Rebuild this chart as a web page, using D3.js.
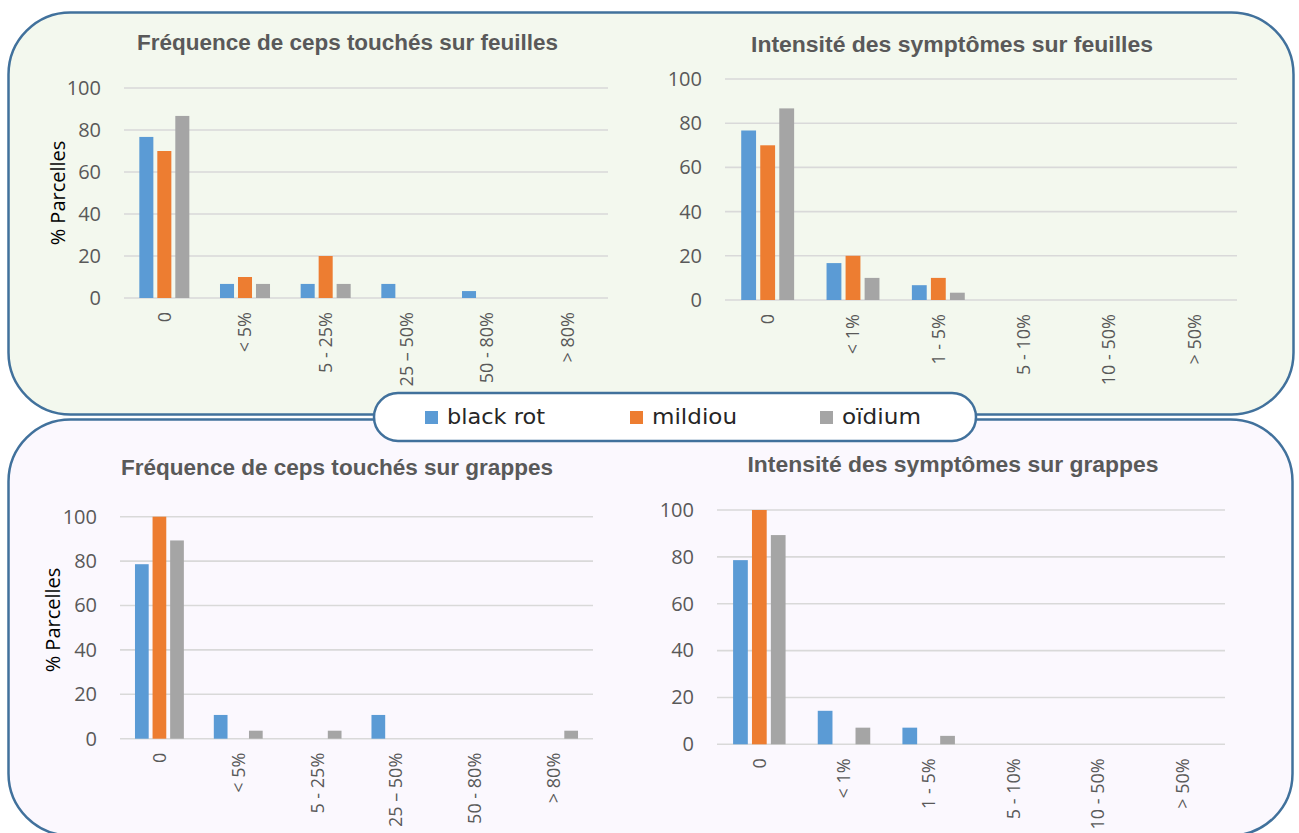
<!DOCTYPE html>
<html>
<head>
<meta charset="utf-8">
<script src="https://cdn.jsdelivr.net/npm/d3@7"></script>
<style>
  body { margin: 0; background: #fff; }
  svg { display: block; }
</style>
</head>
<body>
<svg id="chart" width="1299" height="833"></svg>
<script>
// DATA

const series = ['black rot', 'mildiou', 'oïdium']
const colors = ['#5b9bd5', '#ed7d31', '#a5a5a5']

const catFrequence = ['0', '< 5%', '5 - 25%', '25 – 50%', '50 - 80%', '> 80%']
const catIntensite = ['0', '< 1%', '1 - 5%', '5 - 10%', '10 - 50%', '> 50%']
const yTicks = [0, 20, 40, 60, 80, 100]

const titles = [
    'Fréquence de ceps touchés sur feuilles',
    'Intensité des symptômes sur feuilles',
    'Fréquence de ceps touchés sur grappes',
    'Intensité des symptômes sur grappes'
]
const yTitle = '% Parcelles'

// one row per series : black rot, mildiou, oïdium
const freqFeuilles = [
    [76.7, 6.7, 6.7, 6.7, 3.3, 0],
    [70, 10, 20, 0, 0, 0],
    [86.7, 6.7, 6.7, 0, 0, 0]
]
const intFeuilles = [
    [76.7, 16.7, 6.7, 0, 0, 0],
    [70, 20, 10, 0, 0, 0],
    [86.7, 10, 3.3, 0, 0, 0]
]
const freqGrappes = [
    [78.6, 10.7, 0, 10.7, 0, 0],
    [100, 0, 0, 0, 0, 0],
    [89.3, 3.6, 3.6, 0, 0, 3.6]
]
const intGrappes = [
    [78.6, 14.3, 7.1, 0, 0, 0],
    [100, 0, 0, 0, 0, 0],
    [89.3, 7.1, 3.6, 0, 0, 0]
]

// LAYOUT (positions of each plot inside the picture)

const charts = [
    { data: freqFeuilles, cats: catFrequence, title: titles[0], x0: 124, x1: 608, yTop: 88, yBot: 298,
      tx: 347.5, ty: 49.5, tw: 421, yLab: [65, 193] },
    { data: intFeuilles, cats: catIntensite, title: titles[1], x0: 725, x1: 1237, yTop: 79, yBot: 300,
      tx: 952, ty: 51.5, tw: 402, yLab: null },
    { data: freqGrappes, cats: catFrequence, title: titles[2], x0: 120, x1: 593, yTop: 516.7, yBot: 738.7,
      tx: 337, ty: 475, tw: 432, yLab: [60, 620] },
    { data: intGrappes, cats: catIntensite, title: titles[3], x0: 717, x1: 1225, yTop: 510, yBot: 744.3,
      tx: 953, ty: 472, tw: 411, yLab: null }
]

const svg = d3.select('#chart')
const border = '#41719c'

// background panels
svg.append('rect')
    .attr('x', 8.5).attr('y', 12.5)
    .attr('width', 1285).attr('height', 402)
    .attr('rx', 62).attr('ry', 62)
    .attr('fill', '#f3f8ee')
    .attr('stroke', border).attr('stroke-width', 2.5)

svg.append('rect')
    .attr('x', 8.5).attr('y', 419.5)
    .attr('width', 1284).attr('height', 416)
    .attr('rx', 62).attr('ry', 62)
    .attr('fill', '#fbf8fe')
    .attr('stroke', border).attr('stroke-width', 2.5)

// CHARTS

for (const c of charts) {
    const g = svg.append('g')

    const x = d3.scaleBand()
        .domain(c.cats)
        .range([c.x0, c.x1])

    const bw = x.bandwidth()
    const xInner = d3.scaleBand()
        .domain(series)
        .range([bw * 0.19, bw * 0.81])
        .paddingInner(0.22)

    const y = d3.scaleLinear()
        .domain([0, 100])
        .range([c.yBot, c.yTop])

    // gridlines
    g.append('g')
        .selectAll('line')
        .data(yTicks)
        .join('line')
        .attr('x1', c.x0)
        .attr('x2', c.x1)
        .attr('y1', d => y(d))
        .attr('y2', d => y(d))
        .attr('stroke', '#d9d9d9')
        .attr('stroke-width', 1.6)

    // y axis labels
    const yAxis = g.append('g')
        .attr('transform', `translate(${c.x0},0)`)
        .call(d3.axisLeft(y).tickValues(yTicks).tickSize(0).tickPadding(23))
    yAxis.select('.domain').remove()
    yAxis.selectAll('text')
        .attr('font-family', 'Open Sans')
        .attr('font-size', 20)
        .attr('fill', '#595959')

    // bars
    series.forEach((s, i) => {
        g.append('g')
            .selectAll('rect')
            .data(c.data[i].map((v, j) => ({ cat: c.cats[j], v })))
            .join('rect')
            .filter(d => d.v > 0)
            .attr('x', d => x(d.cat) + xInner(s))
            .attr('width', xInner.bandwidth())
            .attr('y', d => y(d.v))
            .attr('height', d => y(0) - y(d.v))
            .attr('fill', colors[i])
    })

    // x axis labels, rotated
    const xAxis = g.append('g')
        .attr('transform', `translate(0,${c.yBot})`)
        .call(d3.axisBottom(x).tickSize(0).tickPadding(0))
    xAxis.select('.domain').remove()
    xAxis.selectAll('text')
        .attr('font-family', 'Open Sans')
        .attr('font-size', 18)
        .attr('fill', '#595959')
        .attr('text-anchor', 'end')
        .attr('transform', 'translate(0,14) rotate(-90)')
        .attr('x', 0)
        .attr('y', 0)
        .attr('dy', '0.36em')

    // title
    g.append('text')
        .attr('x', c.tx)
        .attr('y', c.ty)
        .attr('text-anchor', 'middle')
        .attr('font-family', 'Liberation Sans')
        .attr('font-weight', 'bold')
        .attr('font-size', 22)
        .attr('fill', '#595959')
        .attr('textLength', c.tw)
        .attr('lengthAdjust', 'spacingAndGlyphs')
        .text(c.title)

    if (c.yLab) {
        g.append('text')
            .attr('transform', `translate(${c.yLab[0]},${c.yLab[1]}) rotate(-90)`)
            .attr('text-anchor', 'middle')
            .attr('font-family', 'Open Sans')
            .attr('font-size', 20)
            .attr('fill', '#000')
            .text(yTitle)
    }
}

// LEGEND

const legend = svg.append('g')
legend.append('rect')
    .attr('x', 374).attr('y', 393)
    .attr('width', 602).attr('height', 48)
    .attr('rx', 24).attr('ry', 24)
    .attr('fill', '#fff')
    .attr('stroke', border).attr('stroke-width', 2.5)

const legendX = [425, 630, 820]
const legendW = [98, 85, 79]
series.forEach((s, i) => {
    legend.append('rect')
        .attr('x', legendX[i]).attr('y', 411)
        .attr('width', 13).attr('height', 13)
        .attr('fill', colors[i])
    legend.append('text')
        .attr('x', legendX[i] + 22)
        .attr('y', 424)
        .attr('font-family', 'DejaVu Sans')
        .attr('font-size', 21)
        .attr('fill', '#262626')
        .attr('textLength', legendW[i])
        .attr('lengthAdjust', 'spacingAndGlyphs')
        .text(s)
})
</script>
</body>
</html>
